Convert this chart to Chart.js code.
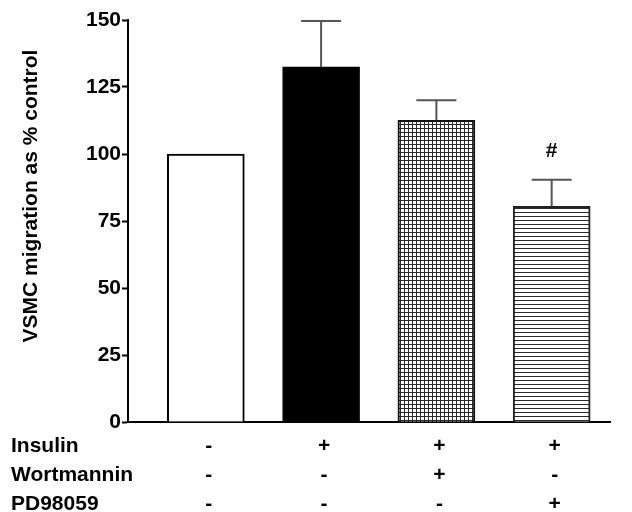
<!DOCTYPE html>
<html>
<head>
<meta charset="utf-8">
<script src="https://cdn.jsdelivr.net/npm/chart.js@4"></script>
<style>
html,body{margin:0;padding:0;background:#fff;}
#wrap{width:632px;height:512px;position:relative;}
</style>
</head>
<body>
<div id="wrap"><canvas id="c" width="632" height="512"></canvas></div>
<script>
// ---- data ----
const categories = ['Control', 'Insulin', 'Insulin + Wortmannin', 'Insulin + PD98059'];
const means = [100, 132.5, 112.6, 80.5];
const sem = [0, 17.1, 7.5, 9.9];
const marks = ['', '', '', '#'];
const yTicks = [0, 25, 50, 75, 100, 125, 150];
const yTitle = 'VSMC migration as % control';
const rowLabels = ['Insulin', 'Wortmannin', 'PD98059'];
const insulinSigns = ['-', '+', '+', '+'];
const wortmanninSigns = ['-', '-', '+', '-'];
const pdSigns = ['-', '-', '-', '+'];
const signRows = [insulinSigns, wortmanninSigns, pdSigns];

const FONT = "'Liberation Sans', Arial, sans-serif";

function makePattern(kind) {
  const p = document.createElement('canvas');
  p.width = 4; p.height = 4;
  const g = p.getContext('2d');
  g.fillStyle = '#ffffff';
  g.fillRect(0, 0, 4, 4);
  g.fillStyle = '#2a2a2a';
  g.fillRect(0, 0, 4, 1);
  if (kind === 'grid') g.fillRect(0, 0, 1, 4);
  return document.getElementById('c').getContext('2d').createPattern(p, 'repeat');
}
const fills = ['#ffffff', '#000000', makePattern('grid'), makePattern('hline')];

const extras = {
  id: 'extras',
  afterDatasetsDraw(chart) {
    const ctx = chart.ctx;
    const xs = chart.scales.x, ys = chart.scales.y;
    ctx.save();
    // error bars
    ctx.strokeStyle = '#555555';
    ctx.lineWidth = 2;
    means.forEach((m, i) => {
      if (!sem[i]) return;
      const x = xs.getPixelForValue(i);
      const y0 = ys.getPixelForValue(m);
      const y1 = ys.getPixelForValue(m + sem[i]);
      ctx.beginPath();
      ctx.moveTo(x, y0);
      ctx.lineTo(x, y1);
      ctx.moveTo(x - 20, y1);
      ctx.lineTo(x + 20, y1);
      ctx.stroke();
    });
    // significance marks
    ctx.fillStyle = '#000';
    ctx.font = 'bold 21px ' + FONT;
    ctx.textAlign = 'center';
    ctx.textBaseline = 'alphabetic';
    marks.forEach((t, i) => {
      if (!t) return;
      const x = xs.getPixelForValue(i);
      const y1 = ys.getPixelForValue(means[i] + sem[i]);
      ctx.fillText(t, x, y1 - 23);
    });
    // treatment table
    const baseY = ys.getPixelForValue(0);
    ctx.textAlign = 'left';
    rowLabels.forEach((lab, r) => {
      const y = baseY + 30 + r * 29;
      ctx.fillText(lab, 11, y);
    });
    ctx.textAlign = 'center';
    signRows.forEach((row, r) => {
      const y = baseY + 30 + r * 29;
      row.forEach((s, i) => {
        ctx.fillText(s, xs.getPixelForValue(i) + 3, y);
      });
    });
    // y axis title
    ctx.save();
    ctx.translate(31, 196);
    ctx.rotate(-Math.PI / 2);
    ctx.textAlign = 'center';
    ctx.textBaseline = 'middle';
    ctx.fillText(yTitle, 0, 0);
    ctx.restore();
    ctx.restore();
  }
};

new Chart(document.getElementById('c'), {
  type: 'bar',
  data: {
    datasets: [{
      label: 'VSMC migration',
      data: means.map((v, i) => ({x: i, y: v})),
      backgroundColor: fills,
      borderColor: ['#000', '#000', '#111', '#222'],
      borderWidth: [2, 1, 2, 2],
      borderSkipped: 'start',
      barThickness: 77
    }]
  },
  options: {
    responsive: false,
    animation: false,
    devicePixelRatio: 1,
    layout: {padding: {left: 0, right: 22, top: 20, bottom: 90}},
    plugins: {legend: {display: false}, tooltip: {enabled: false}},
    scales: {
      x: {
        type: 'linear',
        offset: false,
        min: -0.675,
        max: 3.506,
        ticks: {display: false},
        grid: {display: false, drawTicks: false},
        border: {display: true, color: '#000', width: 2},
        afterFit(s) { s.height = 0; }
      },
      y: {
        min: 0,
        max: 150,
        afterBuildTicks(s) { s.ticks = yTicks.map(v => ({value: v})); },
        ticks: {
          color: '#000',
          padding: 1,
          font: {family: FONT, size: 21, weight: 'bold'}
        },
        grid: {drawOnChartArea: false, drawTicks: true, tickLength: 6, color: '#000', tickWidth: 2},
        border: {display: true, color: '#000', width: 2},
        title: {display: false},
        afterFit(s) { s.width = 128; }
      }
    }
  },
  plugins: [extras]
});
</script>
</body>
</html>
